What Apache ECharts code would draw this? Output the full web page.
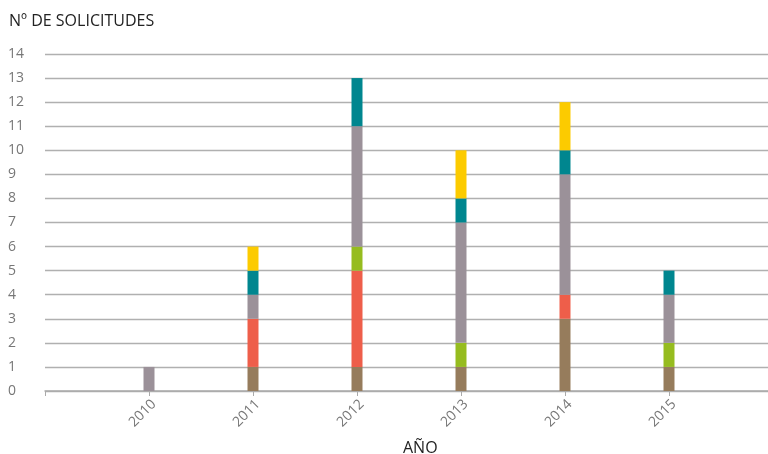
<!DOCTYPE html>
<html><head><meta charset="utf-8">
<script src="https://cdn.jsdelivr.net/npm/echarts@6/dist/echarts.min.js"></script>
<style>html,body{margin:0;padding:0;background:#fff}#c{width:768px;height:454px}</style>
</head><body><div id="c"></div>
<script>
const years = ['', '2010', '2011', '2012', '2013', '2014', '2015', ''];
const yTicks = [0,1,2,3,4,5,6,7,8,9,10,11,12,13,14];
const brown  = [null, 0, 1, 1, 1, 3, 1, null];
const red    = [null, 0, 2, 4, 0, 1, 0, null];
const green  = [null, 0, 0, 1, 1, 0, 1, null];
const gray   = [null, 1, 1, 5, 5, 5, 2, null];
const teal   = [null, 0, 1, 2, 1, 1, 1, null];
const yellow = [null, 0, 1, 0, 2, 2, 0, null];
const seriesDefs = [
  ['brown', brown, '#967C5C'],
  ['red', red, '#EE5E4A'],
  ['green', green, '#96BC1F'],
  ['gray', gray, '#9B9199'],
  ['teal', teal, '#00868F'],
  ['yellow', yellow, '#FCCB00']
];
const FONT = '"Open Sans", Lato, sans-serif';
const chart = echarts.init(document.getElementById('c'), null, {renderer:'canvas'});
chart.setOption({
  animation:false,
  textStyle:{fontFamily:FONT},
  title:[
    {text:'Nº DE SOLICITUDES', left:4, top:8, textStyle:{fontSize:16, fontWeight:'normal', color:'#222', fontFamily:FONT}},
    {text:'AÑO', left:398, top:435, textStyle:{fontSize:16, fontWeight:'normal', color:'#222', fontFamily:FONT}}
  ],
  grid:{left:45, width:728, top:54, bottom:63, outerBoundsMode:'none', containLabel:false},
  xAxis:{
    type:'category', data:years, boundaryGap:false,
    axisLine:{show:true, lineStyle:{color:'#aaa', width:1.5}},
    axisTick:{show:true, length:5, lineStyle:{color:'#aaa'}},
    axisLabel:{rotate:45, color:'#777', fontSize:14, margin:6, fontFamily:FONT, interval:0,
      align:'right', verticalAlign:'top'}
  },
  yAxis:{
    type:'value', min:0, max:14, interval:1,
    axisLine:{show:false}, axisTick:{show:false},
    splitLine:{lineStyle:{color:'#b0b0b0', width:1.3}},
    axisLabel:{color:'#777', fontSize:14, align:'left', margin:37, fontFamily:FONT,
      formatter:v => yTicks.includes(v) ? String(v) : ''}
  },
  series: seriesDefs.map(([n, d, c]) => ({
    name:n, type:'bar', stack:'s', data:d, barWidth:11,
    itemStyle:{color:c}
  }))
});
</script></body></html>
